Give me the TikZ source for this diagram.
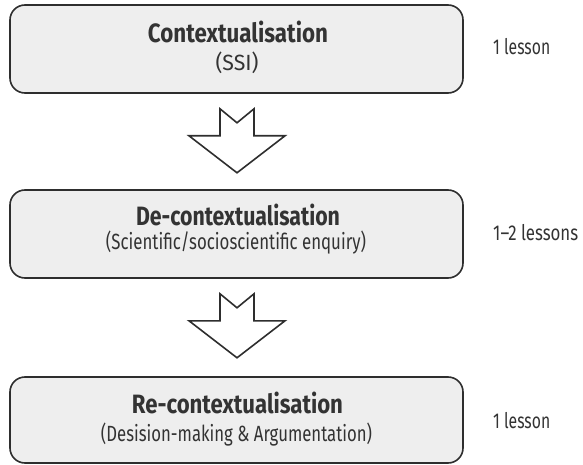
\documentclass[tikz,border=0pt]{standalone}
\usepackage{fontspec}
\usepackage{graphicx}
\setmainfont{Fira Sans}
\usetikzlibrary{calc}
\definecolor{edge}{HTML}{2E2E2E}
\definecolor{boxfill}{HTML}{EEEEEE}
\definecolor{ink}{HTML}{333333}
\newcommand\fitw[2]{\resizebox{#1}{\height}{#2}}
\tikzset{
  stagebox/.style={draw=edge, line width=1.6pt, fill=boxfill, rounded corners=15pt,
    minimum width=453pt, minimum height=88pt, inner sep=0pt},
  headtext/.style={anchor=base, inner sep=0pt, text=ink, font=\bfseries\fontsize{26.5}{29}\selectfont},
  subtext/.style={anchor=base, inner sep=0pt, text=ink, font=\fontsize{22}{25}\selectfont},
  sidetext/.style={anchor=base west, inner sep=0pt, text=ink, font=\fontsize{21.5}{24}\selectfont},
  bigarrow/.style={draw=edge, line width=1.6pt, fill=white, line join=miter}
}
\newcommand\stagearrow[1]{%
  \draw[bigarrow] ($(#1)+(-17,0)$) -- ($(#1)+(0,14)$) -- ($(#1)+(17,0)$) -- ($(#1)+(17,27)$)
    -- ($(#1)+(48,27)$) -- ($(#1)+(0,64)$) -- ($(#1)+(-48,27)$) -- ($(#1)+(-17,27)$) -- cycle;}
\begin{document}
\begin{tikzpicture}[x=1pt,y=-1pt]
\useasboundingbox (0,0) rectangle (583,465);
\node[stagebox] (b1) at (236.5,49) {};
\node[stagebox] (b2) at (236.5,234) {};
\node[stagebox, minimum height=86pt] (b3) at (236.5,420) {};
\node[headtext] (h1) at (238,42.7) {\fitw{180pt}{Contextualisation}};
\node[subtext] (s1) at (237,71) {\fitw{43pt}{(SSI)}};
\node[headtext] (h2) at (238,225.5) {\fitw{204pt}{De-contextualisation}};
\node[subtext] (s2) at (236,249) {\fitw{260pt}{(Scientific/socioscientific enquiry)}};
\node[headtext] (h3) at (237.5,413) {\fitw{211pt}{Re-contextualisation}};
\node[subtext] (s3) at (236.5,441.5) {\fitw{271pt}{(Desision-making \& Argumentation)}};
\node[sidetext] (l1) at (493,55) {\fitw{57pt}{1 lesson}};
\node[sidetext] (l2) at (493,240) {\fitw{85pt}{1--2 lessons}};
\node[sidetext] (l3) at (493,428) {\fitw{57pt}{1 lesson}};
\coordinate (a1) at ($(b1.south)+(0.5,15)$);
\coordinate (a2) at ($(b2.south)+(0.5,15)$);
\stagearrow{a1}
\stagearrow{a2}
\end{tikzpicture}
\end{document}
